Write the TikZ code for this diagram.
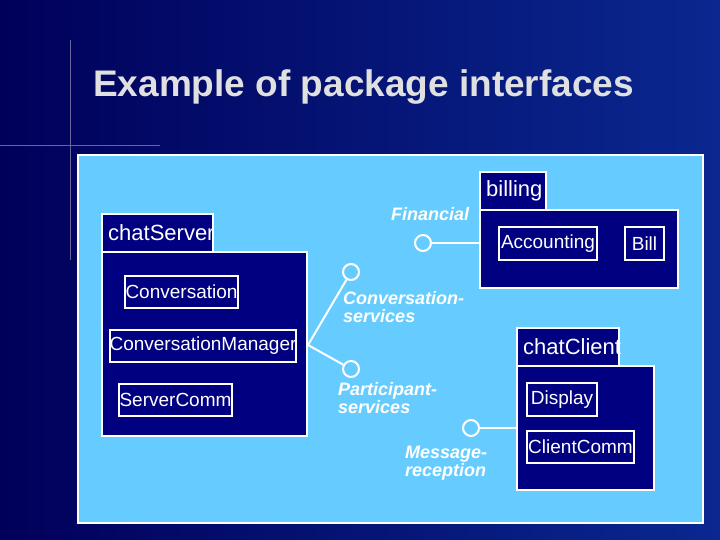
\documentclass[tikz,border=0pt]{standalone}
\usepackage{fontspec}
\setmainfont{Liberation Sans}
\definecolor{navy}{HTML}{000080}
\definecolor{bgdark}{HTML}{00005A}
\definecolor{bglight}{HTML}{0A2890}
\definecolor{sky}{HTML}{66CCFF}
\definecolor{titlegray}{HTML}{E0E0E0}
\tikzset{
  px/.style={x=1pt,y=-1pt},
  pkg/.style={draw=white, line width=2pt, fill=navy},
  cls/.style={draw=white, line width=2pt, fill=navy, inner sep=0pt, text=white, font=\fontsize{19}{19}\selectfont},
  ptxt/.style={text=white, font=\fontsize{22}{22}\selectfont, inner sep=0pt, anchor=west},
  iface/.style={circle, draw=white, line width=2pt, fill=sky, minimum size=16pt, inner sep=0pt},
  ilabel/.style={text=white, font=\bfseries\itshape\fontsize{18}{18}\selectfont, align=left, inner sep=0pt, anchor=north west},
  link/.style={draw=white, line width=2pt}
}
\begin{document}
\begin{tikzpicture}[px]
\useasboundingbox (0,0) rectangle (720,540);
\shade[left color=bgdark, right color=bglight] (0,0) rectangle (720,540);
% lens flare
\draw[white!40!bgdark, line width=0.8pt] (70,40) -- (70,260);
\draw[white!40!bgdark, line width=0.8pt] (0,145) -- (160,145);
\node[anchor=west, text=titlegray, font=\bfseries\fontsize{37}{37}\selectfont, inner sep=0pt] (title) at (93,87) {Example of package interfaces};
\draw[draw=white, line width=2.5pt, fill=sky] (78,155) rectangle (703,523);

% chatServer
\draw[pkg] (102,214) rectangle (213,252);
\draw[pkg] (102,252) rectangle (307,436);
\node[ptxt] (cst) at (108,233) {chatServer};
\node[cls, minimum width=113pt, minimum height=32pt] (conv) at (181.5,292) {Conversation};
\node[cls, minimum width=178pt, minimum height=32pt] (cmgr) at (203,346) {ConversationManager};
\node[cls, minimum width=113pt, minimum height=32pt] (scomm) at (175.5,400) {ServerComm};
\coordinate (srvr) at (308,345);
\node[iface] (ci) at (351,272) {};
\node[iface] (pi) at (351,369) {};
\draw[link] (srvr) -- (ci);
\draw[link] (srvr) -- (pi);
\node[ilabel] (cl) at (343,291) {Conversation-\\services};
\node[ilabel] (pl) at (338,382) {Participant-\\services};

% billing
\draw[pkg] (480,172) rectangle (546,210);
\draw[pkg] (480,210) rectangle (678,288);
\node[ptxt] (bt) at (486,191) {billing};
\node[cls, minimum width=98pt, minimum height=33pt] (acc) at (548,243.5) {Accounting};
\node[cls, minimum width=39pt, minimum height=33pt] (bill) at (644.5,243.5) {Bill};
\node[iface] (fi) at (423,243) {};
\coordinate (bl) at (480,243);
\draw[link] (fi) -- (bl);
\node[ilabel, anchor=west] (fl) at (391,214) {Financial};

% chatClient
\draw[pkg] (517,328) rectangle (619,366);
\draw[pkg] (517,366) rectangle (654,490);
\node[ptxt] (cct) at (523,347) {chatClient};
\node[cls, minimum width=70pt, minimum height=33pt] (disp) at (562,399.5) {Display};
\node[cls, minimum width=107pt, minimum height=32pt] (ccomm) at (580.5,447) {ClientComm};
\node[iface] (mi) at (471,428) {};
\coordinate (cl2) at (517,428);
\draw[link] (mi) -- (cl2);
\node[ilabel] (ml) at (405,446) {Message-\\reception};
\end{tikzpicture}
\end{document}
